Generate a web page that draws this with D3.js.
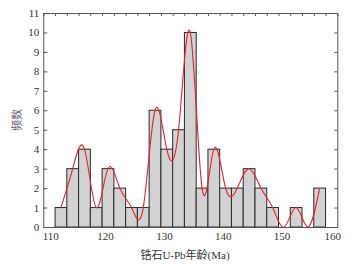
<!DOCTYPE html>
<html>
<head>
<meta charset="utf-8">
<script src="https://cdn.jsdelivr.net/npm/d3@7"></script>
<style>
  body { margin: 0; background: #fff; }
  text { font-family: "Liberation Serif", "Noto Sans CJK SC", serif; }
</style>
</head>
<body>
<div id="chart"></div>
<script>
// histogram of zircon U-Pb ages, 2 Ma bins
const binStarts = [112, 114, 116, 118, 120, 122, 124, 126, 128, 130, 132, 134,
                   136, 138, 140, 142, 144, 146, 148, 150, 152, 154, 156];
const counts    = [1, 3, 4, 1, 3, 2, 1, 1, 6, 4, 5, 10,
                   2, 4, 2, 2, 3, 2, 1, 0, 1, 0, 2];
const binWidth = 2;
const xTicks = [110, 120, 130, 140, 150, 160];
const yTicks = [0, 1, 2, 3, 4, 5, 6, 7, 8, 9, 10, 11];
const xMinor = d3.range(110, 161, 2);

(function() {
  const W = 351, H = 266;
  const left = 43.3, right = 337.3, top = 13, bottom = 227;

  const svg = d3.select("#chart")
    .append("svg")
    .attr("width", W)
    .attr("height", H);

  const x = d3.scaleLinear().domain([110, 160]).range([left, right]);
  const y = d3.scaleLinear().domain([0, 11]).range([bottom, top]);

  const data = binStarts.map((s, i) => ({ start: s, count: counts[i] }));

  // Bars
  svg.append("g")
    .selectAll("rect")
    .data(data.filter(d => d.count > 0))
    .join("rect")
    .attr("x", d => x(d.start))
    .attr("y", d => y(d.count))
    .attr("width", d => x(d.start + binWidth) - x(d.start))
    .attr("height", d => y(0) - y(d.count))
    .attr("fill", "#d2d2d2")
    .attr("stroke", "#2a2a2a")
    .attr("stroke-width", 1);

  // Smoothed red curve through bin centres
  const line = d3.line()
    .x(d => x(d.start + binWidth / 2))
    .y(d => y(d.count))
    .curve(d3.curveNatural);

  svg.append("path")
    .datum(data)
    .attr("d", line)
    .attr("fill", "none")
    .attr("stroke", "#e8202a")
    .attr("stroke-width", 1.1);

  const axisColour = "#555";

  // Bottom axis
  const xAxis = svg.append("g")
    .attr("transform", `translate(0,${bottom})`)
    .call(d3.axisBottom(x).tickValues(xTicks).tickSizeInner(0).tickSizeOuter(0).tickPadding(5));
  xAxis.selectAll("text")
    .attr("dx", d => d === 110 ? 7 : d === 160 ? -5 : 3)
    .style("font-size", "11px")
    .style("fill", "#333");

  // Left axis
  const yAxis = svg.append("g")
    .attr("transform", `translate(${left},0)`)
    .call(d3.axisLeft(y).tickValues(yTicks).tickSizeInner(-4).tickSizeOuter(0).tickPadding(4));
  yAxis.selectAll("text")
    .style("font-size", "11px")
    .style("fill", "#333");

  // Top axis (minor ticks only)
  svg.append("g")
    .attr("transform", `translate(0,${top})`)
    .call(d3.axisTop(x).tickValues(xMinor).tickSizeInner(-3).tickSizeOuter(0).tickFormat(""));

  // Right axis (ticks only)
  svg.append("g")
    .attr("transform", `translate(${right},0)`)
    .call(d3.axisRight(y).tickValues(yTicks).tickSizeInner(-3).tickSizeOuter(0).tickFormat(""));

  svg.selectAll(".domain, .tick line")
    .attr("stroke", axisColour)
    .attr("stroke-width", 1);

  // Axis titles
  svg.append("text")
    .attr("x", 185)
    .attr("y", 259)
    .attr("text-anchor", "middle")
    .style("font-size", "11px")
    .style("fill", "#333")
    .text("锆石U-Pb年龄(Ma)");

  svg.append("text")
    .attr("transform", "translate(21,120) rotate(-90)")
    .attr("text-anchor", "middle")
    .style("font-size", "11px")
    .style("fill", "#666")
    .text("频数");
})();
</script>
</body>
</html>
